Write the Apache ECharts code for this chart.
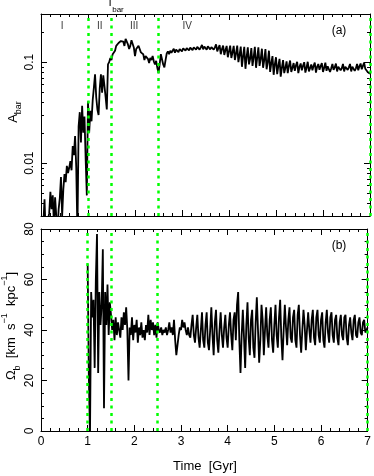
<!DOCTYPE html>
<html>
<head>
<meta charset="utf-8">
<script src="https://cdn.jsdelivr.net/npm/echarts@6/dist/echarts.min.js"></script>
<style>
  html, body { margin: 0; padding: 0; background: #fff; }
  #chart { width: 374px; height: 476px; }
</style>
</head>
<body>
<div id="chart"></div>
<script>
  // both curves are sampled every dt Gyr
  const dt = 0.025
  const abarStart = 0.0
  const omegaStart = 1.0

  // bar amplitude A_bar, t = 0 ... 7 Gyr (8 values per row = 0.2 Gyr)
  const abar = [
    0.002, 0.002, 0.0025, 0.0044, 0.002, 0.002, 0.0028, 0.0032,
    0.0052, 0.0035, 0.0048, 0.0025, 0.0046, 0.0030, 0.002, 0.0035,
    0.0045, 0.0073, 0.0030, 0.0055, 0.0078, 0.0065, 0.0094, 0.0080,
    0.0090, 0.0105, 0.0085, 0.0148, 0.0120, 0.0186, 0.0090, 0.0020,
    0.023, 0.032, 0.016, 0.037, 0.020, 0.029, 0.011, 0.0048,
    0.041, 0.020, 0.033, 0.026, 0.042, 0.056, 0.076, 0.045,
    0.034, 0.030, 0.055, 0.076, 0.050, 0.074, 0.058, 0.045,
    0.034, 0.095, 0.100, 0.110, 0.105, 0.120, 0.115, 0.130,
    0.145, 0.140, 0.155, 0.150, 0.162, 0.155, 0.160, 0.145,
    0.170, 0.175, 0.150, 0.135, 0.145, 0.165, 0.170, 0.140,
    0.115, 0.135, 0.130, 0.145, 0.135, 0.125, 0.130, 0.120,
    0.105, 0.115, 0.110, 0.108, 0.098, 0.110, 0.105, 0.115,
    0.102, 0.095, 0.103, 0.088, 0.078, 0.095, 0.120, 0.118,
    0.095, 0.089, 0.105, 0.122, 0.128, 0.120, 0.130, 0.124,
    0.128, 0.136, 0.124, 0.133, 0.138, 0.126, 0.135, 0.140,
    0.128, 0.137, 0.142, 0.130, 0.138, 0.143, 0.131, 0.139,
    0.145, 0.132, 0.140, 0.146, 0.133, 0.142, 0.147, 0.133,
    0.140, 0.148, 0.134, 0.143, 0.149, 0.133, 0.144, 0.150,
    0.134, 0.141, 0.147, 0.133, 0.140, 0.150, 0.128, 0.138,
    0.148, 0.120, 0.135, 0.146, 0.118, 0.132, 0.145, 0.112,
    0.128, 0.146, 0.110, 0.125, 0.145, 0.105, 0.122, 0.146,
    0.100, 0.118, 0.143, 0.090, 0.115, 0.142, 0.086, 0.112,
    0.140, 0.095, 0.108, 0.138, 0.092, 0.112, 0.142, 0.088,
    0.110, 0.140, 0.092, 0.108, 0.136, 0.088, 0.105, 0.135,
    0.085, 0.100, 0.130, 0.080, 0.098, 0.115, 0.075, 0.095,
    0.112, 0.076, 0.092, 0.108, 0.072, 0.088, 0.105, 0.078,
    0.088, 0.102, 0.078, 0.092, 0.104, 0.080, 0.088, 0.098,
    0.082, 0.093, 0.101, 0.078, 0.090, 0.097, 0.083, 0.092,
    0.100, 0.079, 0.088, 0.101, 0.081, 0.087, 0.095, 0.083,
    0.092, 0.099, 0.079, 0.090, 0.096, 0.084, 0.091, 0.098,
    0.080, 0.088, 0.099, 0.082, 0.091, 0.095, 0.080, 0.087,
    0.096, 0.084, 0.089, 0.097, 0.081, 0.090, 0.094, 0.083,
    0.087, 0.096, 0.081, 0.090, 0.093, 0.084, 0.089, 0.096,
    0.081, 0.090, 0.094, 0.082, 0.087, 0.096, 0.083, 0.091,
    0.097, 0.085, 0.092, 0.099, 0.086, 0.084, 0.080, 0.077,
    0.077
  ]

  // bar pattern speed Omega_b, t = 1 ... 7 Gyr
  const omega = [
    66, 22, -2, 55, 45, 52, 25, 60,
    78, 23, 55, 42, 50, 72, 9, 55,
    42, 58, 38, 51, 46, 40, 44, 36,
    45, 38, 43, 40, 37, 45, 40, 47,
    42, 49, 40, 20, 41, 38, 45, 36,
    42, 39, 44, 35, 41, 38, 43, 37,
    40, 36, 42, 39, 46, 38, 44, 40,
    43, 38, 42, 37, 43, 40, 39, 41,
    38, 40, 39, 41, 38, 40, 43, 39,
    41, 38, 44, 36, 30, 34, 38, 41,
    40, 44, 41, 43, 40, 38, 41, 38,
    37, 42, 46, 38, 35, 41, 46, 37,
    33, 40, 47, 36, 33, 42, 47, 35,
    32, 40, 49, 38, 30, 43, 48, 36,
    31, 40, 47, 38, 33, 41, 46, 37,
    33, 42, 47, 38, 32, 44, 47, 36,
    50, 55, 36, 23, 38, 48, 37, 25,
    42, 51, 37, 30, 44, 48, 33, 29,
    43, 53, 40, 27, 36, 50, 44, 30,
    40, 49, 38, 33, 44, 49, 36, 31,
    42, 50, 38, 33, 45, 52, 37, 28,
    40, 50, 41, 34, 44, 49, 37, 35,
    45, 48, 36, 33, 46, 50, 38, 31,
    40, 48, 42, 32, 40, 47, 40, 35,
    44, 48, 37, 34, 45, 48, 38, 35,
    44, 47, 36, 33, 43, 48, 39, 35,
    45, 47, 38, 35, 44, 46, 37, 34,
    43, 46, 38, 36, 45, 46, 37, 34,
    42, 45, 39, 36, 44, 46, 38, 37,
    43, 45, 39, 38, 43, 44, 39, 40,
    41
  ]

  const abarMajor = [0.01, 0.1]
  const abarMinor = [0.004, 0.005, 0.006, 0.007, 0.008, 0.009,
    0.02, 0.03, 0.04, 0.05, 0.06, 0.07, 0.08, 0.09, 0.2, 0.3]
  const phaseLines = [1, 1.5, 2.5, 7]
  const phaseNames = ['I', 'II', 'III', 'IV']
  const phaseX = [0.45, 1.25, 1.98, 3.11]

  const font = 'Liberation Sans, Arial, sans-serif'
  const black = '#000'

  function xAxisFor(grid, pos, labels) {
    return {
      type: 'value', gridIndex: grid, position: pos, min: 0, max: 7, interval: 1,
      axisLine: { onZero: false, lineStyle: { color: black, width: 1 } },
      axisTick: { inside: true, length: 6, lineStyle: { color: black } },
      minorTick: { show: true, splitNumber: 5, length: 3, lineStyle: { color: black } },
      axisLabel: { show: labels, color: black, fontSize: 12, fontFamily: font, margin: 5 },
      splitLine: { show: false }
    }
  }

  function logAxis(pos, ticks, len, line, labels) {
    return {
      type: 'log', logBase: 10, gridIndex: 0, position: pos, min: 0.003, max: 0.3,
      axisLine: { show: line, onZero: false, lineStyle: { color: black, width: 1 } },
      axisTick: { inside: true, length: len, customValues: ticks, lineStyle: { color: black } },
      axisLabel: {
        show: labels, customValues: abarMajor, rotate: 90, margin: 5,
        color: black, fontSize: 12, fontFamily: font,
        formatter: v => String(+(+v).toPrecision(3))
      },
      splitLine: { show: false }
    }
  }

  function omegaAxis(pos, labels) {
    return {
      type: 'value', gridIndex: 1, position: pos, min: 0, max: 80, interval: 20,
      axisLine: { onZero: false, lineStyle: { color: black, width: 1 } },
      axisTick: { inside: true, length: 6, lineStyle: { color: black } },
      minorTick: { show: true, splitNumber: 4, length: 3, lineStyle: { color: black } },
      axisLabel: { show: labels, rotate: 90, margin: 5, color: black, fontSize: 12, fontFamily: font },
      splitLine: { show: false }
    }
  }

  const greenLines = {
    silent: true, symbol: ['none', 'none'], label: { show: false },
    lineStyle: { color: '#00ff00', width: 2.5, type: [3, 4.5] },
    data: phaseLines.map(v => ({ xAxis: v }))
  }

  const chart = echarts.init(document.getElementById('chart'), null, { renderer: 'canvas' })
  chart.setOption({
    animation: false,
    backgroundColor: '#fff',
    grid: [
      { left: 41, top: 14, width: 329, height: 202 },
      { left: 41, top: 229, width: 329, height: 202 }
    ],
    xAxis: [
      xAxisFor(0, 'bottom', false),
      xAxisFor(0, 'top', false),
      xAxisFor(1, 'bottom', true),
      xAxisFor(1, 'top', false)
    ],
    yAxis: [
      logAxis('left', abarMajor, 6, true, true),
      logAxis('left', abarMinor, 3, false, false),
      logAxis('right', abarMajor, 6, true, false),
      logAxis('right', abarMinor, 3, false, false),
      omegaAxis('left', true),
      omegaAxis('right', false)
    ],
    graphic: [
      { type: 'text', x: 13, y: 112, rotation: Math.PI / 2,
        style: { text: '{m|A}{s|bar}', align: 'center', verticalAlign: 'middle',
          rich: {
            m: { fontSize: 13, fontFamily: font, fill: black, lineHeight: 20, verticalAlign: 'middle' },
            s: { fontSize: 9, fontFamily: font, fill: black, verticalAlign: 'bottom' }
          } } },
      { type: 'text', x: 11, y: 326, rotation: Math.PI / 2,
        style: { text: '{m|\u03A9}{s|b}{m|  [km  s}{p|\u22121}{m|  kpc}{p|\u22121}{m|]}', align: 'center', verticalAlign: 'middle',
          rich: {
            m: { fontSize: 13, fontFamily: font, fill: black, lineHeight: 22, verticalAlign: 'middle' },
            s: { fontSize: 9, fontFamily: font, fill: black, verticalAlign: 'bottom' },
            p: { fontSize: 9, fontFamily: font, fill: black, verticalAlign: 'top' }
          } } },
      { type: 'text', x: 205, y: 466,
        style: { text: 'Time  [Gyr]', align: 'center', verticalAlign: 'middle', fontSize: 13, fontFamily: font, fill: black } },
      { type: 'text', x: 110, y: 3,
        style: { text: 'T', align: 'center', verticalAlign: 'middle', fontSize: 11, fontFamily: font, fill: black } },
      { type: 'text', x: 118, y: 9.5,
        style: { text: 'bar', align: 'center', verticalAlign: 'middle', fontSize: 8, fontFamily: font, fill: black } },
      { type: 'text', x: 339, y: 31,
        style: { text: '(a)', align: 'center', verticalAlign: 'middle', fontSize: 12, fontFamily: font, fill: black } },
      { type: 'text', x: 339, y: 246,
        style: { text: '(b)', align: 'center', verticalAlign: 'middle', fontSize: 12, fontFamily: font, fill: black } }
    ],
    series: [
      {
        type: 'line', xAxisIndex: 0, yAxisIndex: 0,
        data: abar.map((v, i) => [abarStart + i * dt, v]),
        showSymbol: false, clip: true,
        lineStyle: { color: black, width: 1.8 },
        markLine: greenLines
      },
      {
        type: 'scatter', xAxisIndex: 0, yAxisIndex: 0, symbolSize: 0, silent: true,
        data: phaseX.map((x, i) => ({ value: [x, 0.227], name: phaseNames[i] })),
        label: { show: true, position: 'inside', formatter: p => p.name,
          color: black, fontSize: 10, fontFamily: font }
      },
      {
        type: 'line', xAxisIndex: 2, yAxisIndex: 4,
        data: omega.map((v, i) => [omegaStart + i * dt, v]),
        showSymbol: false, clip: true,
        lineStyle: { color: black, width: 1.8 },
        markLine: greenLines
      }
    ]
  })
</script>
</body>
</html>
